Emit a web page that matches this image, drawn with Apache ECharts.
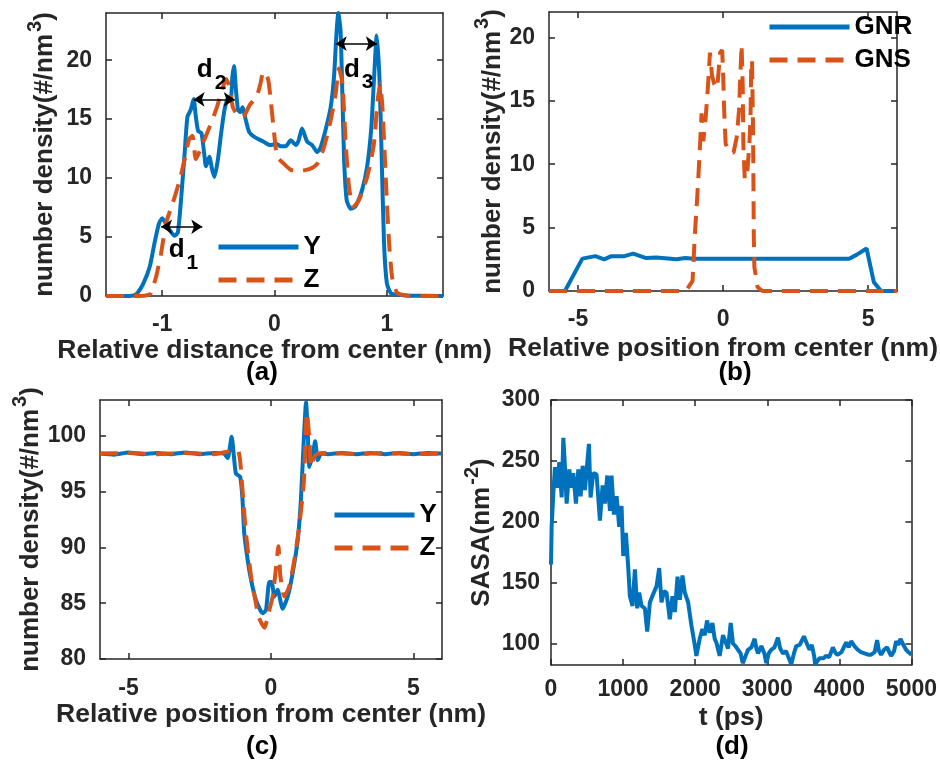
<!DOCTYPE html>
<html>
<head>
<meta charset="utf-8">
<script src="https://cdn.jsdelivr.net/npm/echarts@6/dist/echarts.min.js"></script>
<style>html,body{margin:0;padding:0;background:#fff;}#c{width:940px;height:761px;}</style>
</head>
<body>
<div id="c"></div>
<script>
// ---------- data ----------
// (a) number density vs relative distance from center (nm)
const aY = [[-1.50,0],[-1.30,0],[-1.25,0.05],[-1.22,0.25],[-1.17,1.0],[-1.11,2.5],[-1.07,4.4],[-1.03,6.1],[-1.0,6.6],[-0.97,6.2],[-0.94,5.7],[-0.89,5.1],[-0.86,5.4],[-0.83,8.4],[-0.80,12.1],[-0.775,15.2],[-0.745,15.8],[-0.72,16.7],[-0.70,15.2],[-0.68,14.0],[-0.65,13.8],[-0.625,12.0],[-0.61,11.0],[-0.58,11.8],[-0.555,10.7],[-0.535,10.1],[-0.505,11.5],[-0.475,13.8],[-0.445,15.8],[-0.415,16.8],[-0.39,16.6],[-0.375,18.6],[-0.36,19.5],[-0.345,17.7],[-0.325,15.8],[-0.305,15.6],[-0.285,16.0],[-0.255,14.9],[-0.225,13.9],[-0.18,13.5],[-0.10,13.1],[-0.04,12.8],[0.02,12.9],[0.055,12.7],[0.10,12.7],[0.145,13.2],[0.19,12.8],[0.215,13.2],[0.245,14.2],[0.29,13.1],[0.335,12.8],[0.38,12.2],[0.41,12.6],[0.455,14.1],[0.50,16.0],[0.53,18.6],[0.55,22.0],[0.568,24.0],[0.588,22.5],[0.604,17.2],[0.62,11.5],[0.643,8.1],[0.68,7.4],[0.72,7.6],[0.78,9.0],[0.825,11.0],[0.862,14.3],[0.887,18.6],[0.91,22.1],[0.934,18.6],[0.955,11.5],[0.975,4.5],[1.0,1.1],[1.035,0.25],[1.1,0.1],[1.2,0.03],[1.5,0]];
const aZ = [[-1.5,0],[-1.2,0],[-1.12,0.1],[-1.10,0.25],[-1.055,1.6],[-1.01,3.6],[-0.965,6.2],[-0.905,7.9],[-0.845,9.8],[-0.79,12.0],[-0.76,13.3],[-0.73,13.6],[-0.70,11.6],[-0.64,12.9],[-0.58,14.3],[-0.52,15.8],[-0.475,17.2],[-0.43,18.4],[-0.40,17.7],[-0.37,16.0],[-0.325,15.3],[-0.28,15.2],[-0.22,16.2],[-0.16,16.9],[-0.125,18.0],[-0.10,19.0],[-0.075,18.8],[-0.055,18.3],[-0.03,16.3],[0.0,13.5],[0.025,11.8],[0.085,11.2],[0.145,10.7],[0.23,10.6],[0.32,10.8],[0.38,11.2],[0.44,12.6],[0.50,14.9],[0.545,17.2],[0.574,19.3],[0.605,18.0],[0.634,12.9],[0.664,9.2],[0.702,7.55],[0.75,8.1],[0.825,10.1],[0.885,12.9],[0.915,16.3],[0.94,18.0],[0.962,15.8],[0.99,10.1],[1.02,4.5],[1.05,1.4],[1.095,0.25],[1.2,0.02],[1.5,0]];
// annotation arrows d1,d2,d3 in panel (a): [x1, x2, y]
const aArrows = [[-1.009,-0.643,5.87],[-0.72,-0.354,16.67],[0.545,0.911,21.4]];
// annotation labels: [x, y, subscript]
const aLabels = [[-0.81,3.9,'1'],[-0.56,19.15,'2'],[0.75,19.2,'3']];

// (b) number density vs relative position from center (nm)
const bGNR = [[-6,0],[-5.45,0],[-4.85,2.55],[-4.4,2.75],[-4.1,2.5],[-3.85,2.75],[-3.4,2.75],[-3.1,2.95],[-2.65,2.6],[-2.3,2.65],[-1.6,2.5],[-1.3,2.6],[-1.0,2.55],[4.35,2.55],[4.6,2.85],[4.95,3.35],[5.2,0.7],[5.45,0],[6,0]];
const bGNS = [[-6,0],[-1.28,0],[-1.05,0.8],[-0.97,4.5],[-0.9,7],[-0.85,9],[-0.8,11.2],[-0.74,14.0],[-0.68,11.8],[-0.6,13.6],[-0.52,16.1],[-0.45,18.8],[-0.38,17],[-0.3,16.3],[-0.2,16.0],[-0.1,18.8],[-0.03,19.0],[0.0,17.4],[0.04,14.2],[0.09,11.6],[0.2,11.0],[0.36,10.9],[0.47,12.1],[0.55,14.2],[0.59,16.6],[0.64,19.4],[0.68,16.1],[0.7,11.6],[0.75,8.8],[0.83,9.2],[0.91,11.6],[0.95,14],[0.97,17.4],[1.0,18.2],[1.03,13.5],[1.05,8.2],[1.06,4.5],[1.08,1.9],[1.19,0.3],[1.36,0],[6,0]];

// (c) number density vs relative position from center (nm)
const cY = [[-6,98.4],[-5.5,98.3],[-5,98.5],[-4.5,98.35],[-4,98.45],[-3.5,98.35],[-3,98.5],[-2.5,98.35],[-2,98.45],[-1.65,98.4],[-1.52,98.0],[-1.38,99.9],[-1.31,98.4],[-1.23,96.6],[-1.08,96.3],[-1.0,94.3],[-0.94,91.3],[-0.82,88.9],[-0.70,87.1],[-0.53,85.3],[-0.29,84.1],[-0.175,84.4],[-0.06,86.9],[0.02,86.9],[0.12,85.6],[0.23,86.2],[0.41,84.5],[0.585,85.6],[0.76,87.7],[0.94,90.7],[1.05,94.3],[1.15,99.6],[1.23,103.0],[1.29,100.2],[1.35,97.2],[1.47,98.4],[1.55,99.5],[1.64,97.8],[1.76,98.4],[2,98.35],[2.5,98.45],[3,98.35],[3.5,98.45],[4,98.35],[4.5,98.45],[5,98.35],[5.5,98.45],[6,98.4]];
const cZ = [[-6,98.4],[-5,98.45],[-4,98.35],[-3,98.45],[-2,98.35],[-1.47,98.6],[-1.17,98.7],[-1.08,97.7],[-1.0,95.1],[-0.88,91.3],[-0.70,87.4],[-0.53,85.0],[-0.44,83.8],[-0.23,82.8],[-0.09,84.1],[0.06,85.6],[0.18,88.3],[0.26,90.1],[0.33,87.4],[0.47,85.6],[0.64,86.5],[0.82,88.9],[0.99,91.9],[1.15,95.8],[1.26,102.1],[1.35,99.6],[1.4,97.2],[1.52,98.1],[1.64,98.4],[2,98.45],[3,98.35],[4,98.45],[5,98.35],[6,98.4]];

// (d) SASA vs t (ps)
const dT = [0,9,32,55,88,115,148,171,194,217,254,286,309,346,379,411,439,471,494,526,549,586,632,679,716,748,781,818,840,873,910,946,979,1002,1039,1071,1094,1131,1164,1196,1223,1256,1302,1335,1372,1427,1464,1501,1533,1566,1602,1648,1685,1718,1755,1787,1824,1856,1902,1948,1994,2017,2063,2100,2133,2165,2202,2239,2271,2294,2340,2386,2410,2456,2493,2525,2560,2594,2630,2660,2700,2733,2780,2825,2850,2872,2918,2960,2987,3020,3056,3100,3148,3180,3218,3260,3300,3333,3370,3402,3450,3509,3550,3587,3619,3650,3665,3700,3725,3780,3818,3860,3910,3950,3980,4030,4095,4130,4164,4210,4257,4300,4350,4400,4441,4490,4524,4550,4580,4620,4663,4700,4718,4760,4788,4820,4848,4880,4926,4960,5000];
const dSASA = [165,196,223,245,228,249,220,269,245,215,243,228,240,215,243,221,246,226,242,264,220,240,239,201,230,215,238,209,238,206,221,196,213,172,191,163,139,131,161,129,142,131,129,110,134,142,147,162,134,143,142,120,139,126,155,136,156,142,134,115,99,90,104,112,107,119,109,117,104,101,90,107,108,96,117,100,98,95,92,84,90,95,97,104,96,92,98,92,84,92,95,97,105,96,92,94,88,83,92,98,99,106,100,95,99,90,83,86,88,88,90,89,97,92,91,93,101,97,102,98,95,93,92,91,91,93,103,94,91,95,97,92,90,94,102,99,104,100,95,93,91];

// tick values
const ticksAx = [-1,0,1];
const ticksAy = [0,5,10,15,20];
const ticksBx = [-5,0,5];
const ticksBy = [0,5,10,15,20];
const ticksCx = [-5,0,5];
const ticksCy = [80,85,90,95,100];
const ticksDx = [0,1000,2000,3000,4000,5000];
const ticksDy = [100,150,200,250,300];

// ---------- styling ----------
const FONT = 'Liberation Sans';
const TXT = '#262626';
const BLUE = '#0072BD';
const ORANGE = '#D95319';
const DASH = [18, 10];

const richName = {
  t: {fontSize: 26, fontWeight: 'bold', fontFamily: FONT, color: TXT},
  s: {fontSize: 20, fontWeight: 'bold', fontFamily: FONT, color: TXT, padding: [0, 0, 20, 2]}
};

function xAxes(gi, min, max, ticks, name, gap, margin) {
  const line = {show: true, onZero: false, lineStyle: {color: TXT, width: 1.5}};
  const tick = {show: true, inside: true, length: 6, customValues: ticks, lineStyle: {color: TXT, width: 1.5}};
  return [
    {gridIndex: gi, type: 'value', min, max, position: 'bottom', axisLine: line, axisTick: tick,
     splitLine: {show: false},
     axisLabel: {customValues: ticks, margin: margin, fontSize: 23, fontWeight: 'bold', fontFamily: FONT, color: TXT,
       formatter: v => String(v)},
     name: name, nameLocation: 'middle', nameGap: gap,
     nameTextStyle: {fontSize: 26.5, fontWeight: 'bold', fontFamily: FONT, color: TXT}},
    {gridIndex: gi, type: 'value', min, max, position: 'top', axisLine: line, axisTick: tick,
     splitLine: {show: false}, axisLabel: {show: false}}
  ];
}
function yAxes(gi, min, max, ticks, nameRich, gap, margin) {
  const line = {show: true, onZero: false, lineStyle: {color: TXT, width: 1.5}};
  const tick = {show: true, inside: true, length: 6, customValues: ticks, lineStyle: {color: TXT, width: 1.5}};
  return [
    {gridIndex: gi, type: 'value', min, max, position: 'left', axisLine: line, axisTick: tick,
     splitLine: {show: false},
     axisLabel: {customValues: ticks, margin: margin, fontSize: 23, fontWeight: 'bold', fontFamily: FONT, color: TXT,
       formatter: v => String(v)},
     name: nameRich, nameLocation: 'middle', nameGap: gap,
     nameTextStyle: {rich: richName}},
    {gridIndex: gi, type: 'value', min, max, position: 'right', axisLine: line, axisTick: tick,
     splitLine: {show: false}, axisLabel: {show: false}}
  ];
}

const densName = '{t|number density(#/nm}{s|3}{t|)}';
const sasaName = '{t|SASA(nm}{s|-2}{t|)}';

const xAxis = [].concat(
  xAxes(0, -1.5, 1.5, ticksAx, 'Relative distance from center (nm)', 40, 17),
  xAxes(1, -6, 6, ticksBx, 'Relative position from center (nm)', 44, 17),
  xAxes(2, -6, 6, ticksCx, 'Relative position from center (nm)', 40, 18),
  xAxes(3, 0, 5000, ticksDx, 't (ps)', 39, 13)
);
const yAxis = [].concat(
  yAxes(0, 0, 24, ticksAy, densName, 41, 14),
  yAxes(1, 0, 22, ticksBy, densName, 36, 14),
  yAxes(2, 80, 103.2, ticksCy, densName, 47, 14),
  yAxes(3, 82.5, 300, ticksDy, sasaName, 49, 11)
);

const lineBase = {type: 'line', showSymbol: false, symbol: 'none', animation: false};

const series = [
  Object.assign({}, lineBase, {name: 'Y', xAxisIndex: 0, yAxisIndex: 0, data: aY, smooth: 0.2, z: 3,
    lineStyle: {color: BLUE, width: 4}, itemStyle: {color: BLUE},
    markLine: {silent: true, symbol: ['arrow', 'arrow'], symbolSize: [11, 11], animation: false,
      lineStyle: {color: '#000', width: 1.5, type: 'solid'}, label: {show: false},
      data: aArrows.map(a => [{coord: [a[0], a[2]]}, {coord: [a[1], a[2]]}])},
    markPoint: {silent: true, symbol: 'circle', symbolSize: 1, itemStyle: {color: 'rgba(0,0,0,0)'}, animation: false,
      label: {show: true, position: 'inside', formatter: p => '{d|d}{s|' + p.value + '}',
        rich: {d: {fontSize: 26, fontWeight: 'bold', fontFamily: FONT, color: '#000'},
               s: {fontSize: 21, fontWeight: 'bold', fontFamily: FONT, color: '#000', padding: [26, 0, 0, 2]}}},
      data: aLabels.map(l => ({coord: [l[0], l[1]], value: l[2]}))}
  }),
  Object.assign({}, lineBase, {name: 'Z', xAxisIndex: 0, yAxisIndex: 0, data: aZ, smooth: 0.2, z: 4,
    lineStyle: {color: ORANGE, width: 4, type: DASH}, itemStyle: {color: ORANGE}}),
  Object.assign({}, lineBase, {name: 'GNR', xAxisIndex: 2, yAxisIndex: 2, data: bGNR, z: 3,
    lineStyle: {color: BLUE, width: 4}, itemStyle: {color: BLUE}}),
  Object.assign({}, lineBase, {name: 'GNS', xAxisIndex: 2, yAxisIndex: 2, data: bGNS, z: 4,
    lineStyle: {color: ORANGE, width: 4, type: DASH}, itemStyle: {color: ORANGE}}),
  Object.assign({}, lineBase, {name: 'Y', xAxisIndex: 4, yAxisIndex: 4, data: cY, smooth: 0.2, z: 3,
    lineStyle: {color: BLUE, width: 4}, itemStyle: {color: BLUE}}),
  Object.assign({}, lineBase, {name: 'Z', xAxisIndex: 4, yAxisIndex: 4, data: cZ, smooth: 0.2, z: 4,
    lineStyle: {color: ORANGE, width: 4, type: DASH}, itemStyle: {color: ORANGE}}),
  Object.assign({}, lineBase, {name: 'SASA', xAxisIndex: 6, yAxisIndex: 6, data: dT.map((t, i) => [t, dSASA[i]]), z: 3,
    lineStyle: {color: BLUE, width: 4}, itemStyle: {color: BLUE}})
];

const legendText = {fontSize: 26, fontWeight: 'bold', fontFamily: FONT, color: '#000'};
const legendBase = {orient: 'vertical', itemWidth: 80, itemHeight: 14, itemGap: 7, padding: 0,
  itemStyle: {opacity: 0, borderWidth: 0}, lineStyle: {width: 5},
  textStyle: legendText, selectedMode: false};

const option = {
  animation: false,
  backgroundColor: '#fff',
  grid: [
    {left: 106, top: 13, width: 337, height: 283},
    {left: 549, top: 12, width: 363, height: 279},
    {left: 100, top: 400, width: 342, height: 259},
    {left: 551, top: 400, width: 361, height: 265}
  ],
  xAxis: xAxis,
  yAxis: yAxis,
  series: series,
  legend: [
    Object.assign({}, legendBase, {data: ['Y', 'Z'], left: 216, top: 234}),
    Object.assign({}, legendBase, {data: ['GNR', 'GNS'], left: 767, top: 14}),
    Object.assign({}, legendBase, {data: ['Y', 'Z'], left: 332, top: 502})
  ],
  title: [
    {text: '(a)', left: 262, top: 360, textAlign: 'center', padding: 0, textStyle: {fontSize: 26, fontWeight: 'bold', fontFamily: FONT, color: '#000'}},
    {text: '(b)', left: 735, top: 360, textAlign: 'center', padding: 0, textStyle: {fontSize: 26, fontWeight: 'bold', fontFamily: FONT, color: '#000'}},
    {text: '(c)', left: 262, top: 734, textAlign: 'center', padding: 0, textStyle: {fontSize: 26, fontWeight: 'bold', fontFamily: FONT, color: '#000'}},
    {text: '(d)', left: 732, top: 734, textAlign: 'center', padding: 0, textStyle: {fontSize: 26, fontWeight: 'bold', fontFamily: FONT, color: '#000'}}
  ]
};

const chart = echarts.init(document.getElementById('c'), null, {renderer: 'canvas'});
chart.setOption(option);
</script>
</body>
</html>
